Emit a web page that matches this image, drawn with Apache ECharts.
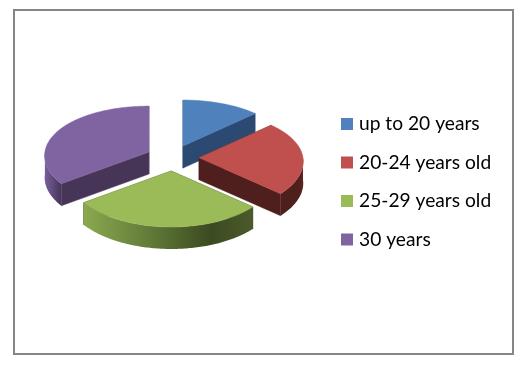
<!DOCTYPE html>
<html><head><meta charset="utf-8">
<style>html,body{margin:0;padding:0;background:#fff}#c{width:525px;height:366px}</style>
<script src="https://cdn.jsdelivr.net/npm/echarts@6/dist/echarts.min.js"></script>
</head><body><div id="c"></div>
<script>
const categories = ['up to 20 years', '20-24 years old', '25-29 years old', '30 years'];
const shares = [13, 23.5, 28.5, 35];
const topColors = ['#4F81BD', '#C0504D', '#9BBB59', '#8064A2'];
const cutColors = ['#2C4A71', '#4F1F1D', '#3F4C24', '#463556'];
const outerStops = [
  [[0, '#2C4A71'], [1, '#2C4A71']],
  [[0, '#4F1F1D'], [0.8, '#4F1F1D'], [1, '#5E2624']],
  [[0, '#8BA850'], [0.35, '#66803A'], [0.75, '#3C4A21'], [1, '#4A5A2B']],
  [[0, '#7A5E9B'], [0.5, '#5F4A7C'], [1, '#463556']]
];
const drawOrder = [0, 3, 1, 2];
const total = shares.reduce((a, b) => a + b, 0);
const view = { cx: 172.5, cy: 158, rx: 104, tilt: 0.07, ryMid: 51, ryBend: 5, depth: 22, popX: 26.5, popY: 13 };

function flat(a) {
  const X = Math.sin(a), Y = -Math.cos(a);
  return [view.rx * X * (1 + view.tilt * Y), view.ryMid * Y + view.ryBend * Y * Y];
}
function renderSlice(i, params, api) {
  const before = shares.slice(0, i).reduce((a, b) => a + b, 0);
  const a0 = before / total * 2 * Math.PI;
  const a1 = (before + api.value(0)) / total * 2 * Math.PI;
  const mid = (a0 + a1) / 2;
  const ox = view.cx + view.popX * Math.sin(mid);
  const oy = view.cy - view.popY * Math.cos(mid);
  const pt = (a, d) => { const p = flat(a); return [ox + p[0], oy + p[1] + d]; };
  const arc = (s, e, d) => {
    const n = Math.max(2, Math.ceil((e - s) * 60)), out = [];
    for (let k = 0; k <= n; k++) out.push(pt(s + (e - s) * k / n, d));
    return out;
  };
  const kids = [];
  const face = (a) => ({
    type: 'polygon',
    shape: { points: [[ox, oy], pt(a, 0), pt(a, view.depth), [ox, oy + view.depth]] },
    style: { fill: cutColors[i], stroke: cutColors[i], lineWidth: 0.5 }
  });
  kids.push(face(a0), face(a1));
  const s = Math.max(a0, Math.PI / 2), e = Math.min(a1, 3 * Math.PI / 2);
  if (e > s) {
    const stops = outerStops[i].map(c => ({ offset: c[0], color: c[1] }));
    kids.push({
      type: 'polygon',
      shape: { points: arc(s, e, 0).concat(arc(s, e, view.depth).reverse()) },
      style: { fill: new echarts.graphic.LinearGradient(0, 0, 1, 0, stops), stroke: null }
    });
  }
  kids.push({
    type: 'polygon',
    shape: { points: [[ox, oy]].concat(arc(a0, a1, 0)) },
    style: { fill: topColors[i], stroke: topColors[i], lineWidth: 0.5 }
  });
  return { type: 'group', children: kids };
}
const chart = echarts.init(document.getElementById('c'), null, { renderer: 'canvas' });
chart.setOption({
  animation: false,
  backgroundColor: '#fff',
  graphic: [{
    type: 'rect', left: 13, top: 9, z: -1, silent: true,
    shape: { x: 1, y: 1, width: 499, height: 344 },
    style: { fill: '#fff', stroke: '#868686', lineWidth: 2 }
  }],
  legend: {
    data: categories, orient: 'vertical', left: 341, top: 114, padding: 0,
    itemWidth: 12, itemHeight: 12, itemGap: 18.5, icon: 'rect',
    textStyle: { fontFamily: 'Lato', fontSize: 19.2, lineHeight: 20, color: '#000', padding: [0, 0, 0, 1] }
  },
  series: drawOrder.map(i => ({
    type: 'custom', name: categories[i], coordinateSystem: 'none',
    itemStyle: { color: topColors[i] },
    data: [shares[i]],
    renderItem: (p, api) => renderSlice(i, p, api),
    silent: true
  }))
});
</script></body></html>
